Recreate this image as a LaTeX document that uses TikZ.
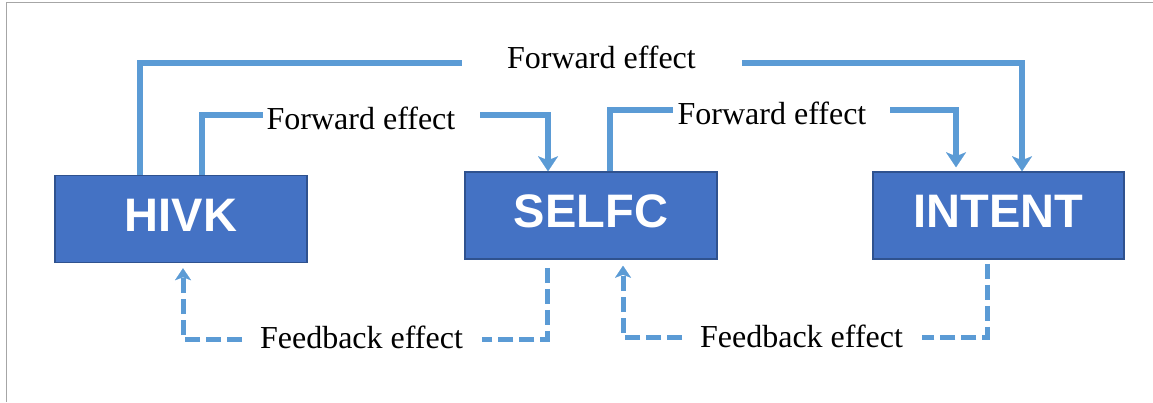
\documentclass[tikz,border=0pt]{standalone}
\usepackage{fontspec}
\setmainfont{Liberation Serif}
\newfontfamily\boxfont{Liberation Sans}
\usetikzlibrary{arrows.meta}
\definecolor{boxblue}{HTML}{4472C4}
\definecolor{boxedge}{HTML}{2F528F}
\definecolor{linkblue}{HTML}{5B9BD5}
\definecolor{framegrey}{HTML}{A6A6A6}
\tikzset{
box/.style={
  draw=boxedge,fill=boxblue,line width=1.5pt,inner sep=0pt,
  minimum width=252pt,minimum height=87pt,text=white,
  text height=33.7pt,text depth=9.5pt,
  font=\boxfont\bfseries\fontsize{47}{50}\selectfont},
lbl/.style={anchor=base,inner sep=0pt,font=\fontsize{32}{36}\selectfont},
fwd/.style={linkblue,line width=6pt},
fwdarr/.style={fwd,-{Stealth[length=15pt,width=20pt,inset=4pt,line width=0.1pt]}},
fbk/.style={linkblue,line width=5pt,dash pattern=on 15pt off 6pt},
fbkarr/.style={fbk,-{Stealth[length=12pt,width=16pt,inset=3pt,line width=0.1pt]}}}

\begin{document}
\begin{tikzpicture}[x=1pt,y=-1pt]
\useasboundingbox (0,0) rectangle (1153,402);
\draw[framegrey,line width=1.5pt] (6.7,402) -- (6.7,2.7) -- (1153,2.7);

\node[box] (hivk)   at (181,219)     {HIVK};
\node[box] (selfc)  at (591,215.5)   {SELFC};
\node[box,minimum width=251pt] (intent) at (998.5,215.5) {INTENT};

\node[lbl] (fw0) at (601.5,68)  {Forward effect};
\node[lbl] (fw1) at (361,129)   {Forward effect};
\node[lbl] (fw2) at (772,124)   {Forward effect};
\node[lbl] (fb1) at (361.5,348) {Feedback effect};
\node[lbl] (fb2) at (801.5,347) {Feedback effect};

% forward, HIVK -> INTENT
\coordinate (f0l) at (140,63);  \coordinate (f0a) at (462,63);
\coordinate (f0b) at (742,63);  \coordinate (f0r) at (1022,63);
\draw[fwd] (hivk.north -| f0l) -- (f0l) -- (f0a);
\draw[fwdarr] (f0b) -- (f0r) -- (intent.north -| f0r);
% forward, HIVK -> SELFC
\coordinate (f1l) at (202,115); \coordinate (f1a) at (263,115);
\coordinate (f1b) at (480,115); \coordinate (f1r) at (548,115);
\draw[fwd] (hivk.north -| f1l) -- (f1l) -- (f1a);
\draw[fwdarr] (f1b) -- (f1r) -- (selfc.north -| f1r);
% forward, SELFC -> INTENT
\coordinate (f2l) at (610,110); \coordinate (f2a) at (673,110);
\coordinate (f2b) at (890,110); \coordinate (f2r) at (956,110);
\draw[fwd] (selfc.north -| f2l) -- (f2l) -- (f2a);
\draw[fwdarr,shorten >=4pt] (f2b) -- (f2r) -- (intent.north -| f2r);

% feedback, SELFC -> HIVK
\coordinate (b1r) at (547,339); \coordinate (b1a) at (482,339);
\coordinate (b1b) at (242,339); \coordinate (b1l) at (183,339);
\draw[fbk,shorten <=8pt] (selfc.south -| b1r) -- (b1r) -- (b1a);
\draw[fbkarr,shorten >=5pt] (b1b) -- (b1l) -- (hivk.south -| b1l);
% feedback, INTENT -> SELFC
\coordinate (b2r) at (987,337); \coordinate (b2a) at (922,337);
\coordinate (b2b) at (682,337); \coordinate (b2l) at (623,337);
\draw[fbk,shorten <=4pt] (intent.south -| b2r) -- (b2r) -- (b2a);
\draw[fbkarr,shorten >=6pt] (b2b) -- (b2l) -- (selfc.south -| b2l);
\end{tikzpicture}
\end{document}
